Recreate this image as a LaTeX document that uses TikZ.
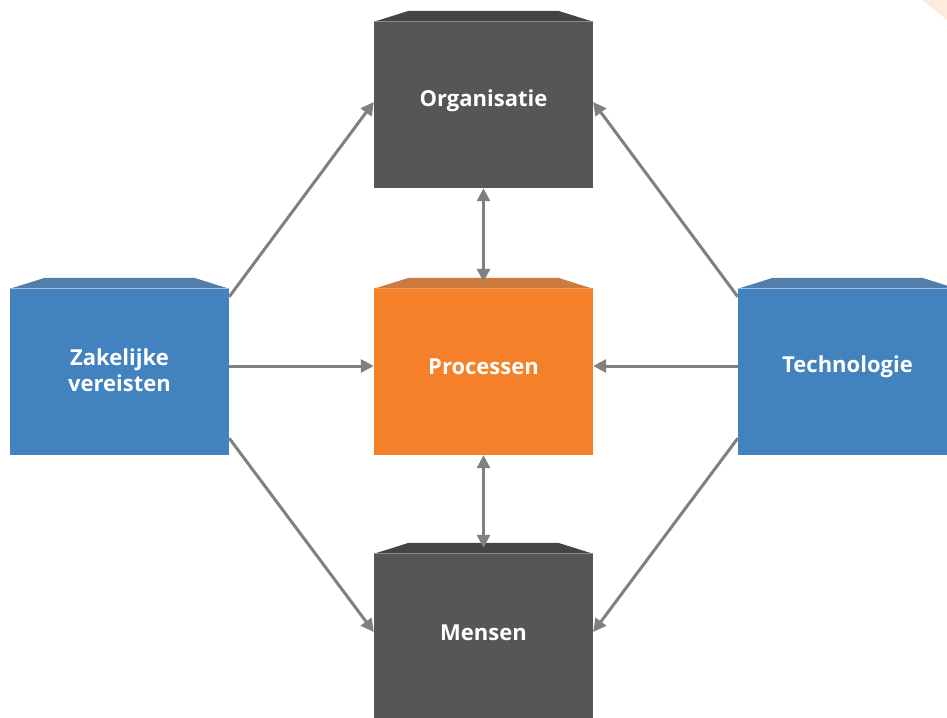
\documentclass[tikz,border=0pt]{standalone}
\usepackage{fontspec}
\setmainfont{Open Sans}
\usetikzlibrary{arrows.meta}
\definecolor{darkbody}{HTML}{555655}
\definecolor{darktop}{HTML}{444444}
\definecolor{darkline}{HTML}{8A8A8A}
\definecolor{bluebody}{HTML}{4282BF}
\definecolor{bluetop}{HTML}{527EAC}
\definecolor{blueline}{HTML}{9CC0E5}
\definecolor{orangebody}{HTML}{F48029}
\definecolor{orangetop}{HTML}{CC7A3D}
\definecolor{orangeline}{HTML}{F09A5A}
\definecolor{arrowgray}{HTML}{808080}
\definecolor{cornerpeach}{HTML}{FDEBDD}
\tikzset{
  cube/.style={rectangle, inner sep=0pt, minimum width=219pt, minimum height=166pt, text=white,
    font=\fontsize{22}{26}\selectfont\bfseries, align=center},
  conn/.style={draw=arrowgray, line width=3pt, -{Triangle[length=13pt,width=13pt]}},
  bconn/.style={draw=arrowgray, line width=3pt, {Triangle[length=13pt,width=13pt]}-{Triangle[length=13pt,width=13pt]}}
}
\newcommand{\cubetop}[3]{%
  \fill[#2] (#1.north west) -- ([xshift=35pt,yshift=11pt]#1.north west) -- ([xshift=-35pt,yshift=11pt]#1.north east) -- (#1.north east) -- cycle;
  \draw[#3, line width=1pt] (#1.north west) -- (#1.north east);}
\begin{document}
\begin{tikzpicture}[x=1pt,y=-1pt]
\useasboundingbox (0,0) rectangle (947,717);
\fill[cornerpeach] (922,0) -- (947,0) -- (947,20) -- cycle;
% boxes
\node[cube, fill=darkbody] (org) at (483.5,105) {};
\node[cube, fill=orangebody] (proc) at (483.5,372) {};
\node[cube, fill=darkbody] (mens) at (483.5,637) {};
\node[cube, fill=bluebody] (zak) at (119.5,372) {};
\node[cube, fill=bluebody] (tech) at (847.5,372) {};
\cubetop{org}{darktop}{darkline}
\cubetop{proc}{orangetop}{orangeline}
\cubetop{mens}{darktop}{darkline}
\cubetop{zak}{bluetop}{blueline}
\cubetop{tech}{bluetop}{blueline}
% labels
\node[cube, minimum width=0pt, minimum height=0pt] (orgt) at ([yshift=4pt]org.center) {Organisatie};
\node[cube, minimum width=0pt, minimum height=0pt] (proct) at ([yshift=5pt]proc.center) {Processen};
\node[cube, minimum width=0pt, minimum height=0pt] (menst) at ([yshift=4pt]mens.center) {Mensen};
\node[cube, minimum width=0pt, minimum height=0pt] (zakt) at ([yshift=2pt]zak.center) {Zakelijke\\vereisten};
\node[cube, minimum width=0pt, minimum height=0pt] (techt) at ([yshift=5pt]tech.center) {Technologie};
% connectors
\draw[conn] ([yshift=-8pt]zak.north east) -- ([yshift=3pt]org.west);
\draw[conn] ([yshift=6pt]zak.east) -- ([yshift=6pt]proc.west);
\draw[conn] ([yshift=17pt]zak.south east) -- ([yshift=5pt]mens.west);
\draw[conn] ([yshift=-8pt]tech.north west) -- ([yshift=3pt]org.east);
\draw[conn] ([yshift=6pt]tech.west) -- ([yshift=6pt]proc.east);
\draw[conn] ([yshift=17pt]tech.south west) -- ([yshift=5pt]mens.east);
\draw[bconn] (org.south) -- ([yshift=7pt]proc.north);
\draw[bconn] (proc.south) -- ([yshift=6pt]mens.north);
\end{tikzpicture}
\end{document}
